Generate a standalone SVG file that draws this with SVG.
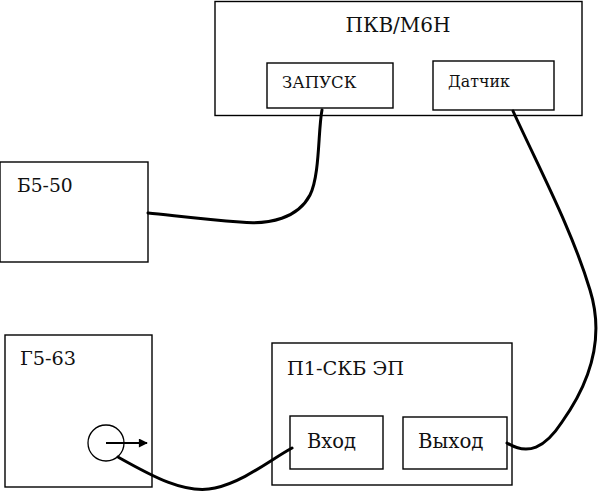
<svg xmlns="http://www.w3.org/2000/svg" width="599" height="494" viewBox="0 0 599 494">
<style>
.box{fill:none;stroke:#000;stroke-width:1.4}
.t{fill:#111;font-family:"DejaVu Serif",serif}
.cable{fill:none;stroke:#000;stroke-width:3;stroke-linecap:round}
</style>
<defs>
<marker id="ah" viewBox="0 0 10 10" refX="9" refY="5" markerWidth="10" markerHeight="9" orient="auto" markerUnits="userSpaceOnUse">
<path d="M0,0 L10,5 L0,10 z" fill="#000"/>
</marker>
</defs>
<rect width="599" height="494" fill="#fff"/>
<g id="pkv">
<rect class="box" x="215" y="1.5" width="367" height="114"/>
<text class="t" x="398" y="32" font-size="20" text-anchor="middle">ПКВ/М6Н</text>
<g id="zapusk">
<rect class="box" x="267" y="63" width="126" height="45"/>
<text class="t" x="282" y="88" font-size="16.5">ЗАПУСК</text>
</g>
<g id="datchik">
<rect class="box" x="433" y="61" width="121" height="49"/>
<text class="t" x="448" y="87" font-size="15.8">Датчик</text>
</g>
</g>
<g id="b550">
<rect class="box" x="0" y="162" width="148" height="100"/>
<text class="t" x="17" y="192" font-size="18.7">Б5-50</text>
</g>
<g id="g563">
<rect class="box" x="5" y="335" width="147" height="152"/>
<text class="t" x="20" y="365" font-size="19.3">Г5-63</text>
<circle cx="106" cy="443" r="18" fill="none" stroke="#000" stroke-width="1.3"/>
<line x1="106" y1="443" x2="147" y2="443" stroke="#000" stroke-width="1.8" marker-end="url(#ah)"/>
</g>
<g id="p1">
<rect class="box" x="272" y="343" width="240" height="142"/>
<text class="t" x="287" y="375" font-size="19.3">П1-СКБ ЭП</text>
<g id="vhod">
<rect class="box" x="290" y="416" width="93" height="53"/>
<text class="t" x="307" y="448" font-size="19.5">Вход</text>
</g>
<g id="vyhod">
<rect class="box" x="403" y="417" width="104" height="52"/>
<text class="t" x="418" y="448" font-size="19.8">Выход</text>
</g>
</g>
<g id="connectors">
<path class="cable" d="M322,110 C318,130 320,175 310,195 C298,218 270,225 240,222 C200,219 170,215 148,213"/>
<path class="cable" d="M513,111 C540,170 572,230 590,290 C604,335 592,380 562,422 C545,448 528,456 507,443"/>
<path class="cable" d="M118,457 C150,475 185,495 215,488 C245,481 270,460 292,448"/>
</g>
</svg>
